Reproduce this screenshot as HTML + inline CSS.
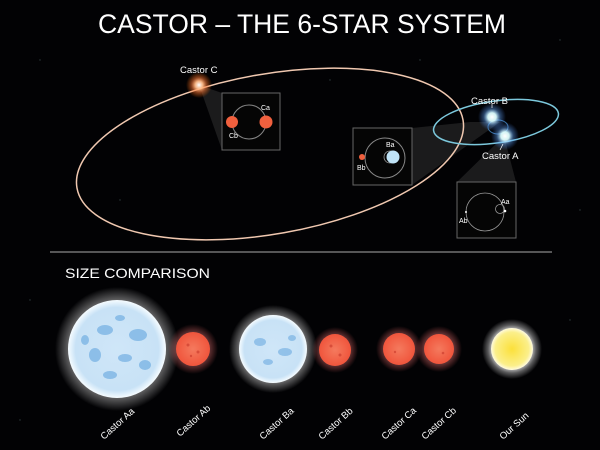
<!DOCTYPE html>
<html><head><meta charset="utf-8"><style>
html,body{margin:0;padding:0;background:#000;width:600px;height:450px;overflow:hidden}
svg{display:block}
text{font-family:"Liberation Sans",sans-serif;fill:#fff}
</style></head><body>
<svg width="600" height="450" viewBox="0 0 600 450">
<defs>
<radialGradient id="glowW"><stop offset="0.6" stop-color="#fff" stop-opacity="0.9"/><stop offset="0.8" stop-color="#fff" stop-opacity="0.35"/><stop offset="1" stop-color="#fff" stop-opacity="0"/></radialGradient>
<radialGradient id="glowB"><stop offset="0" stop-color="#fff"/><stop offset="0.3" stop-color="#dff" stop-opacity="0.95"/><stop offset="0.6" stop-color="#6af" stop-opacity="0.4"/><stop offset="1" stop-color="#48f" stop-opacity="0"/></radialGradient>
<radialGradient id="glowO"><stop offset="0" stop-color="#fff"/><stop offset="0.3" stop-color="#fb8" stop-opacity="0.95"/><stop offset="0.6" stop-color="#f73" stop-opacity="0.5"/><stop offset="1" stop-color="#f60" stop-opacity="0"/></radialGradient>
<radialGradient id="blue"><stop offset="0" stop-color="#cfe6f8"/><stop offset="0.85" stop-color="#c8e2f6"/><stop offset="1" stop-color="#f6fcff"/></radialGradient>
<radialGradient id="red"><stop offset="0" stop-color="#f47a5e"/><stop offset="1" stop-color="#f0553c"/></radialGradient>
<radialGradient id="sun"><stop offset="0" stop-color="#fbe03a"/><stop offset="0.8" stop-color="#fbef8a"/><stop offset="1" stop-color="#fffbe0"/></radialGradient>
<radialGradient id="rglow"><stop offset="0.6" stop-color="#f88" stop-opacity="0.45"/><stop offset="1" stop-color="#f66" stop-opacity="0"/></radialGradient>
</defs>
<rect width="600" height="450" fill="#020204"/>
<g fill="#8aa" opacity="0.35">
<circle cx="40" cy="60" r="0.7"/><circle cx="120" cy="200" r="0.7"/><circle cx="330" cy="80" r="0.7"/><circle cx="560" cy="40" r="0.7"/><circle cx="580" cy="210" r="0.7"/><circle cx="30" cy="300" r="0.7"/><circle cx="570" cy="320" r="0.7"/><circle cx="300" cy="230" r="0.7"/><circle cx="420" cy="60" r="0.7"/><circle cx="20" cy="420" r="0.7"/>
</g>
<text x="302" y="33" text-anchor="middle" font-size="27" textLength="408" lengthAdjust="spacingAndGlyphs">CASTOR – THE 6-STAR SYSTEM</text>

<!-- zoom wedges -->
<polygon points="199,85 222,93 222,150" fill="#333" opacity="0.5"/>
<polygon points="412,128 470,122 500,122 412,185" fill="#333" opacity="0.5"/>
<polygon points="504,136 457,182 516,182" fill="#333" opacity="0.5"/>

<!-- big orbit -->
<ellipse cx="270" cy="154" rx="196" ry="80" transform="rotate(-10 270 154)" fill="none" stroke="#f0c8b0" stroke-width="1.5"/>
<!-- castor B orbit -->
<ellipse cx="496" cy="122" rx="63" ry="21" transform="rotate(-8 496 122)" fill="none" stroke="#7cc8dc" stroke-width="1.5"/>
<ellipse cx="498" cy="127" rx="10" ry="7" fill="none" stroke="#3a6fa0" stroke-width="1"/>

<!-- Castor C -->
<circle cx="199" cy="85" r="13" fill="url(#glowO)"/>
<text x="180" y="73" font-size="9.5">Castor C</text>
<!-- Castor B & A -->
<circle cx="492" cy="117" r="14" fill="url(#glowB)"/>
<circle cx="505" cy="136" r="14" fill="url(#glowB)"/>
<line x1="492" y1="108" x2="492" y2="104" stroke="#fff" stroke-width="0.7"/>
<line x1="503" y1="144" x2="500" y2="150" stroke="#fff" stroke-width="0.7"/>
<text x="471" y="104" font-size="9.5">Castor B</text>
<text x="482" y="159" font-size="9.5">Castor A</text>

<!-- box C -->
<rect x="222" y="93" width="58" height="57" fill="#050505" stroke="#666" stroke-width="1"/>
<circle cx="249" cy="122" r="17" fill="none" stroke="#888" stroke-width="1"/>
<circle cx="232" cy="122" r="6" fill="#f0603e"/>
<circle cx="266" cy="122" r="6.5" fill="#f0603e"/>
<text x="261" y="110" font-size="7">Ca</text>
<text x="229" y="138" font-size="7">Cb</text>
<!-- box B -->
<rect x="353" y="128" width="59" height="57" fill="#050505" stroke="#666" stroke-width="1"/>
<circle cx="385" cy="158" r="20" fill="none" stroke="#888" stroke-width="1"/>
<circle cx="390" cy="157" r="6" fill="none" stroke="#999" stroke-width="0.8"/>
<circle cx="393" cy="157" r="6.5" fill="#bfe3f7"/>
<circle cx="362" cy="157" r="3" fill="#f0603e"/>
<text x="386" y="147" font-size="7">Ba</text>
<text x="357" y="170" font-size="7">Bb</text>
<!-- box A -->
<rect x="457" y="182" width="59" height="56" fill="#050505" stroke="#666" stroke-width="1"/>
<circle cx="485" cy="212" r="19" fill="none" stroke="#999" stroke-width="0.8"/>
<circle cx="500" cy="209" r="4.5" fill="none" stroke="#999" stroke-width="0.8"/>
<circle cx="505" cy="211" r="1.3" fill="#fff"/>
<circle cx="466" cy="212" r="1" fill="#fff"/>
<text x="501" y="204" font-size="7">Aa</text>
<text x="459" y="223" font-size="7">Ab</text>

<line x1="50" y1="252" x2="552" y2="252" stroke="#aaa" stroke-width="1"/>
<text x="65" y="278" font-size="14" textLength="145" lengthAdjust="spacingAndGlyphs">SIZE COMPARISON</text>

<!-- size comparison -->
<circle cx="117" cy="349" r="62" fill="url(#glowW)"/>
<circle cx="117" cy="349" r="49" fill="url(#blue)"/>
<g fill="#5aa0dc" opacity="0.55">
<ellipse cx="105" cy="330" rx="8" ry="5"/><ellipse cx="138" cy="335" rx="9" ry="6"/><ellipse cx="95" cy="355" rx="6" ry="7"/><ellipse cx="125" cy="358" rx="7" ry="4"/><ellipse cx="145" cy="365" rx="6" ry="5"/><ellipse cx="110" cy="375" rx="7" ry="4"/><ellipse cx="85" cy="340" rx="4" ry="5"/><ellipse cx="120" cy="318" rx="5" ry="3"/>
</g>
<circle cx="193" cy="349" r="25" fill="url(#rglow)"/>
<circle cx="193" cy="349" r="17" fill="url(#red)"/>
<circle cx="273" cy="349" r="44" fill="url(#glowW)"/>
<circle cx="273" cy="349" r="34" fill="url(#blue)"/>
<g fill="#5aa0dc" opacity="0.5">
<ellipse cx="260" cy="342" rx="6" ry="4"/><ellipse cx="285" cy="352" rx="7" ry="4"/><ellipse cx="268" cy="362" rx="5" ry="3"/><ellipse cx="292" cy="338" rx="4" ry="3"/>
</g>
<circle cx="335" cy="350" r="23" fill="url(#rglow)"/>
<circle cx="335" cy="350" r="16" fill="url(#red)"/>
<circle cx="399" cy="349" r="23" fill="url(#rglow)"/>
<circle cx="399" cy="349" r="16" fill="url(#red)"/>
<circle cx="439" cy="349" r="23" fill="url(#rglow)"/>
<circle cx="439" cy="349" r="15" fill="url(#red)"/>
<g fill="#c8382a" opacity="0.6">
<circle cx="188" cy="345" r="1.5"/><circle cx="198" cy="352" r="1.5"/><circle cx="191" cy="356" r="1.2"/>
<circle cx="331" cy="346" r="1.5"/><circle cx="340" cy="355" r="1.5"/>
<circle cx="395" cy="352" r="1.2"/><circle cx="443" cy="353" r="1.3"/>
</g>
<circle cx="512" cy="349" r="30" fill="url(#glowW)"/>
<circle cx="512" cy="349" r="21" fill="url(#sun)"/>

<g font-size="9.5">
<text transform="translate(104,440) rotate(-42)">Castor Aa</text>
<text transform="translate(180,437) rotate(-42)">Castor Ab</text>
<text transform="translate(263,440) rotate(-42)">Castor Ba</text>
<text transform="translate(322,440) rotate(-42)">Castor Bb</text>
<text transform="translate(385,440) rotate(-42)">Castor Ca</text>
<text transform="translate(425,440) rotate(-42)">Castor Cb</text>
<text transform="translate(503,440) rotate(-42)">Our Sun</text>
</g>
</svg>
</body></html>
